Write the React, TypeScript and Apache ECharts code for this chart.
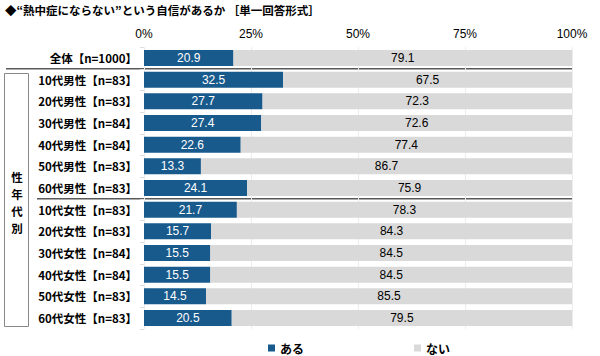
import React, { useEffect, useRef } from "react";
import * as echarts from "echarts";

const categories = [
  "全体【n=1000】",
  "10代男性【n=83】",
  "20代男性【n=83】",
  "30代男性【n=84】",
  "40代男性【n=84】",
  "50代男性【n=83】",
  "60代男性【n=83】",
  "10代女性【n=83】",
  "20代女性【n=83】",
  "30代女性【n=84】",
  "40代女性【n=84】",
  "50代女性【n=83】",
  "60代女性【n=83】",
];
const aruValues = [20.9, 32.5, 27.7, 27.4, 22.6, 13.3, 24.1, 21.7, 15.7, 15.5, 15.5, 14.5, 20.5];
const naiValues = [79.1, 67.5, 72.3, 72.6, 77.4, 86.7, 75.9, 78.3, 84.3, 84.5, 84.5, 85.5, 79.5];
const seriesNames = ["ある", "ない"];
const title = "◆“熱中症にならない”という自信があるか ［単一回答形式］";
const groupChars = ["性", "年", "代", "別"];

const JP = '"Noto Sans CJK JP", "Noto Sans", sans-serif';
const NUM = '"Liberation Sans", Arial, sans-serif';

export default function App() {
  const ref = useRef<HTMLDivElement>(null);
  useEffect(() => {
    if (!ref.current) return;
    const chart = echarts.init(ref.current, null, { renderer: "svg" });
    const gridTop = 47.2;
    const gridH = 281.6;
    const band = gridH / categories.length;
    const gridLeft = 144;
    const gridRight = 572;
    const groupTexts = groupChars.map((c, i) => ({
      type: "text",
      x: 17,
      y: 177 + i * 17,
      style: {
        text: c,
        font: `bold 11.5px ${JP}`,
        fill: "#000",
        align: "center",
        verticalAlign: "middle",
      },
    }));
    chart.setOption({
      animation: false,
      backgroundColor: "#ffffff",
      grid: { left: gridLeft, right: 600 - gridRight, top: gridTop, height: gridH, containLabel: false },
      legend: {
        data: seriesNames,
        left: 263,
        top: 337,
        itemWidth: 7,
        itemHeight: 7,
        itemGap: 110,
        icon: "rect",
        textStyle: { fontFamily: JP, fontWeight: "bold", fontSize: 12, color: "#000" },
      },
      graphic: [
        {
          type: "text",
          left: 5,
          top: 4,
          style: { text: title, font: `bold 11.5px ${JP}`, fill: "#000" },
        },
        {
          type: "line",
          shape: { x1: 6, y1: gridTop + band, x2: gridRight, y2: gridTop + band },
          style: { stroke: "#595959", lineWidth: 1.5 },
        },
        {
          type: "line",
          shape: { x1: 37, y1: gridTop + band * 7, x2: gridRight, y2: gridTop + band * 7 },
          style: { stroke: "#595959", lineWidth: 1.5 },
        },
        {
          type: "rect",
          shape: { x: 4.5, y: 73.5, width: 24, height: 253 },
          style: { fill: "none", stroke: "#888", lineWidth: 1 },
        },
        ...groupTexts,
      ],
      xAxis: {
        type: "value",
        position: "top",
        min: 0,
        max: 100,
        interval: 25,
        axisLabel: { formatter: "{value}%", fontFamily: NUM, fontSize: 12, color: "#000", margin: 7 },
        axisLine: { show: false },
        axisTick: { show: false },
        splitLine: { show: true, lineStyle: { color: "#ececec", width: 1 } },
      },
      yAxis: {
        type: "category",
        data: categories,
        inverse: true,
        axisLabel: { fontFamily: JP, fontWeight: "bold", fontSize: 11.5, color: "#000", margin: 7 },
        axisLine: { show: false },
        axisTick: { show: true, length: 4, lineStyle: { color: "#dddddd" } },
      },
      series: [
        {
          name: seriesNames[0],
          type: "bar",
          stack: "total",
          data: aruValues,
          barCategoryGap: "26%",
          itemStyle: { color: "#195a8c" },
          label: {
            show: true,
            position: "inside",
            color: "#fff",
            fontFamily: NUM,
            fontSize: 12,
            formatter: (p: any) => p.value.toFixed(1),
          },
        },
        {
          name: seriesNames[1],
          type: "bar",
          stack: "total",
          data: naiValues,
          barCategoryGap: "26%",
          itemStyle: { color: "#d9d9d9" },
          label: {
            show: true,
            position: "inside",
            color: "#000",
            fontFamily: NUM,
            fontSize: 12,
            formatter: (p: any) => p.value.toFixed(1),
          },
        },
      ],
    });
    return () => chart.dispose();
  }, []);
  return <div ref={ref} style={{ width: 600, height: 356, position: "absolute", left: 0, top: 0 }} />;
}
